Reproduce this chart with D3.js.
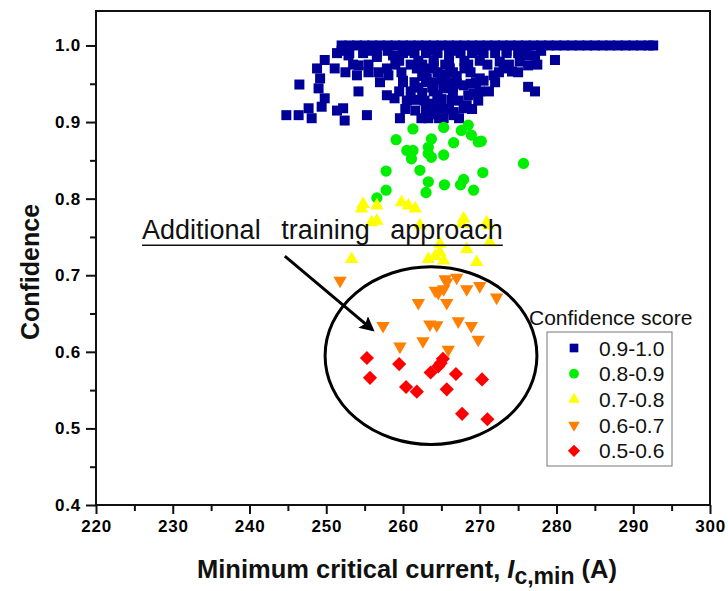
<!DOCTYPE html>
<html>
<head>
<meta charset="utf-8">
<script src="https://cdn.jsdelivr.net/npm/d3@7"></script>
<style>
  body { margin: 0; background: #fff; }
  svg { display: block; font-family: "Liberation Sans", Arial, sans-serif; }
</style>
</head>
<body>
<div id="chart"></div>
<script>
// score bins shown in the legend
const bins = ['0.9-1.0', '0.8-0.9', '0.7-0.8', '0.6-0.7', '0.5-0.6'];
const binColors = ['#000099', '#00ee00', '#ffff00', '#ff8000', '#ff0000'];

// 0.9-1.0 : blue squares (critical current in A, confidence)
const blueX = [
  252, 253, 254, 255, 256, 257, 258, 259, 260, 261, 262, 263, 264, 265, 266, 267, 268, 269, 270, 271,
  272, 273, 274, 275, 276, 277, 278, 279, 280, 281, 282, 283, 284, 285, 286, 287, 288, 289, 290, 291, 292, 292.6,
  251.4, 253, 254.8, 256.6, 258.7, 260, 261.5, 263, 264.5, 266, 267.5, 269, 270.5, 272, 273.5, 275, 276.3, 277.2,
  252, 255.5, 258, 261, 264, 267, 270, 273.5, 276, 278,
  249.8, 252.9, 256.6, 259.5, 262, 264, 266, 268, 270, 272.6, 275.2, 279.8,
  253.5, 255.5, 259, 262.5, 265.5, 268.5, 271, 273.8, 277.5,
  248.8, 251.1, 254.2, 257.9, 261.8, 263.5, 266.1, 268, 273.1, 274.2, 276.3, 261, 264, 265.5, 267,
  252.5, 255.5, 256.8, 259.8, 264.5, 266.5, 268.8, 272.5, 275,
  249.2, 254, 258.1, 260, 262.9, 263.1, 265, 267, 270, 271.8, 270.5, 262.5,
  257, 261.5, 263, 265.8, 269.5, 272,
  246.5, 249, 260, 264, 265.3, 267.9, 266.5, 276.3, 277.2, 263.8, 262, 268.8,
  259.5, 261, 264, 266.5, 270, 271.2,
  249.8, 254.2, 257.9, 258.9, 261.6, 263.5, 266.3, 268.5, 269.2, 264.5, 262.5, 265,
  260.5, 262.8, 264.5, 267.2, 269.8,
  247.7, 249.4, 251.4, 252.2, 261.6, 263.5, 266.6, 268.3, 267.9, 265,
  260.3, 263, 264, 266, 269,
  244.8, 246.4, 248.1, 252.4, 255.3, 259.6, 262.4, 265.3, 266.6, 264,
  263.3, 264.7, 267.3
];
const blueY = [
  1.0, 1.0, 1.0, 1.0, 1.0, 1.0, 1.0, 1.0, 1.0, 1.0, 1.0, 1.0, 1.0, 1.0, 1.0, 1.0, 1.0, 1.0, 1.0, 1.0,
  1.0, 1.0, 1.0, 1.0, 1.0, 1.0, 1.0, 1.0, 1.0, 1.0, 1.0, 1.0, 1.0, 1.0, 1.0, 1.0, 1.0, 1.0, 1.0, 1.0, 1.0, 1.0,
  0.99, 0.99, 0.99, 0.99, 0.987, 0.99, 0.99, 0.99, 0.99, 0.99, 0.99, 0.99, 0.99, 0.99, 0.99, 0.99, 0.987, 0.987,
  0.993, 0.993, 0.993, 0.993, 0.993, 0.993, 0.993, 0.993, 0.993, 0.993,
  0.981, 0.987, 0.985, 0.98, 0.98, 0.98, 0.98, 0.98, 0.98, 0.979, 0.979, 0.981,
  0.975, 0.975, 0.975, 0.975, 0.975, 0.975, 0.975, 0.975, 0.975,
  0.97, 0.97, 0.974, 0.97, 0.97, 0.97, 0.97, 0.97, 0.97, 0.966, 0.974, 0.975, 0.975, 0.962, 0.96,
  0.965, 0.965, 0.965, 0.965, 0.965, 0.965, 0.965, 0.965, 0.965,
  0.957, 0.961, 0.961, 0.954, 0.966, 0.957, 0.955, 0.95, 0.957, 0.961, 0.954, 0.96,
  0.952, 0.952, 0.952, 0.952, 0.952, 0.952,
  0.949, 0.944, 0.952, 0.952, 0.944, 0.948, 0.945, 0.946, 0.94, 0.945, 0.945, 0.95,
  0.94, 0.94, 0.94, 0.94, 0.94, 0.94,
  0.931, 0.94, 0.935, 0.931, 0.929, 0.924, 0.929, 0.935, 0.937, 0.935, 0.938, 0.93,
  0.928, 0.928, 0.928, 0.928, 0.928,
  0.918, 0.92, 0.915, 0.918, 0.915, 0.922, 0.913, 0.922, 0.918, 0.918,
  0.917, 0.917, 0.917, 0.917, 0.917,
  0.909, 0.909, 0.905, 0.902, 0.909, 0.905, 0.905, 0.905, 0.909, 0.91,
  0.905, 0.905, 0.905
];

// 0.8-0.9 : green circles
const greenX = [261.3, 259.1, 260.5, 261.3, 261.1, 263.3, 263.7, 263.3, 263.7, 265.3, 265.3, 266.6, 267.6, 268.5,
  268.9, 269.8, 270.2, 275.7, 270.4, 267.9, 267.5, 269.2, 265.4, 263.3, 263, 262.2, 257.8, 257.8, 256.6];
const greenY = [0.891, 0.877, 0.863, 0.863, 0.852, 0.867, 0.878, 0.859, 0.854, 0.893, 0.857, 0.873, 0.889, 0.896,
  0.883, 0.874, 0.875, 0.846, 0.834, 0.825, 0.818, 0.811, 0.818, 0.822, 0.808, 0.837, 0.836, 0.811, 0.801];

// 0.7-0.8 : yellow up triangles
const yellowX = [254.8, 254.6, 256.6, 259.8, 260.7, 261.6, 255.9, 256.6, 253.3, 262.2, 264.8, 264.8, 263.3, 265.3,
  267.9, 267.7, 268.3, 271.1, 271.3, 269.6, 270.9, 264.2];
const yellowY = [0.793, 0.787, 0.791, 0.795, 0.791, 0.787, 0.769, 0.771, 0.721, 0.765, 0.741, 0.73, 0.721, 0.719,
  0.774, 0.767, 0.734, 0.765, 0.743, 0.717, 0.769, 0.725];

// 0.6-0.7 : orange down triangles
const orangeX = [265.5, 265.7, 265.3, 264.2, 267, 268.3, 270, 272.2, 262, 265.7, 264.6, 257.4, 263.5, 264.4,
  267.2, 268.9, 262.6, 269.8, 259.6, 265.9, 251.8];
const orangeY = [0.695, 0.691, 0.682, 0.68, 0.697, 0.682, 0.686, 0.671, 0.664, 0.664, 0.677, 0.634, 0.636, 0.635,
  0.64, 0.634, 0.614, 0.616, 0.607, 0.603, 0.693];

// 0.5-0.6 : red diamonds
const redX = [255.3, 255.7, 259.5, 260.4, 261.8, 263.6, 264.6, 265.2, 265.7, 266.9, 270.3, 267.7, 271, 264.9];
const redY = [0.592, 0.566, 0.584, 0.554, 0.548, 0.573, 0.581, 0.591, 0.551, 0.571, 0.564, 0.519, 0.512, 0.585];

const xTicks = [220, 230, 240, 250, 260, 270, 280, 290, 300];
const yTicks = [0.4, 0.5, 0.6, 0.7, 0.8, 0.9, 1.0];

const width = 728;
const height = 591;
const margin = { top: 11, right: 18, bottom: 86, left: 96 };
const tickFont = '"Liberation Sans", Arial, sans-serif';

const svg = d3.select('#chart')
  .append('svg')
  .attr('width', width)
  .attr('height', height);

const x = d3.scaleLinear().domain([220, 300]).range([margin.left, width - margin.right]);
const y = d3.scaleLinear().domain([0.4, 1.045]).range([height - margin.bottom, margin.top]);

// frame
svg.append('rect')
  .attr('x', margin.left)
  .attr('y', margin.top)
  .attr('width', width - margin.right - margin.left)
  .attr('height', height - margin.bottom - margin.top)
  .attr('fill', 'none')
  .attr('stroke', '#111')
  .attr('stroke-width', 2);

// minor ticks first, then the labelled ones
const xMinor = d3.range(225, 300, 10);
const yMinor = d3.range(0.45, 1.0, 0.1);

svg.append('g')
  .attr('transform', `translate(0,${y(0.4)})`)
  .call(d3.axisBottom(x).tickValues(xMinor).tickSize(6).tickFormat(''))
  .call(g => g.select('.domain').remove())
  .call(g => g.selectAll('line').attr('stroke-width', 2).attr('stroke', '#111'));

svg.append('g')
  .attr('transform', `translate(${x(220)},0)`)
  .call(d3.axisLeft(y).tickValues(yMinor).tickSize(6).tickFormat(''))
  .call(g => g.select('.domain').remove())
  .call(g => g.selectAll('line').attr('stroke-width', 2).attr('stroke', '#111'));

svg.append('g')
  .attr('transform', `translate(0,${y(0.4)})`)
  .call(d3.axisBottom(x).tickValues(xTicks).tickSize(9).tickPadding(6).tickFormat(d3.format('d')))
  .call(g => g.select('.domain').remove())
  .call(g => g.selectAll('line').attr('stroke-width', 2).attr('stroke', '#111'))
  .call(g => g.selectAll('text')
    .style('font-size', '17px').style('font-weight', 'bold').style('font-family', tickFont)
    .style('letter-spacing', '0.8px')
    .attr('fill', '#000'));

svg.append('g')
  .attr('transform', `translate(${x(220)},0)`)
  .call(d3.axisLeft(y).tickValues(yTicks).tickSize(10).tickPadding(5).tickFormat(d3.format('.1f')))
  .call(g => g.select('.domain').remove())
  .call(g => g.selectAll('line').attr('stroke-width', 2).attr('stroke', '#111'))
  .call(g => g.selectAll('text')
    .style('font-size', '17px').style('font-weight', 'bold').style('font-family', tickFont)
    .style('letter-spacing', '0.8px')
    .attr('fill', '#000'));

// axis titles
svg.append('text')
  .attr('transform', `translate(39,272) rotate(-90)`)
  .attr('text-anchor', 'middle')
  .style('font-size', '25px')
  .style('font-weight', 'bold')
  .attr('fill', '#111')
  .text('Confidence');

const xTitle = svg.append('text')
  .attr('x', 407)
  .attr('y', 578)
  .attr('text-anchor', 'middle')
  .style('font-size', '25.5px')
  .style('font-weight', 'bold')
  .attr('fill', '#111');
xTitle.append('tspan').text('Minimum critical current, ');
xTitle.append('tspan').style('font-style', 'italic').text('I');
xTitle.append('tspan').style('font-size', '23px').attr('dy', 6).text('c,min');
xTitle.append('tspan').attr('dy', -6).text(' (A)');

// series
const shapes = [
  { xs: blueX, ys: blueY, type: d3.symbolSquare, size: 100, rot: 0 },
  { xs: greenX, ys: greenY, type: d3.symbolCircle, size: 100, rot: 0 },
  { xs: yellowX, ys: yellowY, type: d3.symbolTriangle, size: 78, rot: 0 },
  { xs: orangeX, ys: orangeY, type: d3.symbolTriangle, size: 78, rot: 180 },
  { xs: redX, ys: redY, type: d3.symbolSquare, size: 100, rot: 45 }
];

shapes.forEach((s, i) => {
  svg.append('g')
    .selectAll('path')
    .data(s.xs.map((v, j) => [v, s.ys[j]]))
    .enter()
    .append('path')
    .attr('d', d3.symbol().type(s.type).size(s.size))
    .attr('transform', d => `translate(${x(d[0])},${y(d[1])}) rotate(${s.rot})`)
    .attr('fill', binColors[i]);
});

// annotation: ellipse, arrow and label
svg.append('ellipse')
  .attr('cx', x(263.65))
  .attr('cy', y(0.595))
  .attr('rx', x(263.65 + 13.8) - x(263.65))
  .attr('ry', y(0.595) - y(0.595 + 0.116))
  .attr('fill', 'none')
  .attr('stroke', '#000')
  .attr('stroke-width', 3);

const defs = svg.append('defs');
defs.append('marker')
  .attr('id', 'arrow')
  .attr('viewBox', '0 0 10 10')
  .attr('refX', 8)
  .attr('refY', 5)
  .attr('markerWidth', 5)
  .attr('markerHeight', 5)
  .attr('orient', 'auto')
  .append('path')
  .attr('d', 'M0,0L10,5L0,10L2,5Z')
  .attr('fill', '#000');

svg.append('line')
  .attr('x1', x(244.6)).attr('y1', y(0.725))
  .attr('x2', x(256)).attr('y2', y(0.629))
  .attr('stroke', '#000')
  .attr('stroke-width', 3)
  .attr('marker-end', 'url(#arrow)');

const note = svg.append('text')
  .attr('x', x(226))
  .attr('y', y(0.747))
  .style('font-size', '27px')
  .attr('word-spacing', 13)
  .attr('fill', '#111')
  .text('Additional training approach');
const nb = note.node().getBBox();
svg.append('line')
  .attr('x1', nb.x).attr('x2', nb.x + nb.width)
  .attr('y1', y(0.747) + 6).attr('y2', y(0.747) + 6)
  .attr('stroke', '#111')
  .attr('stroke-width', 1.5);

// legend
const legend = svg.append('g').attr('transform', 'translate(547,332)');
svg.append('text')
  .attr('x', 529)
  .attr('y', 325)
  .style('font-size', '21px')
  .attr('fill', '#111')
  .text('Confidence score');

legend.append('rect')
  .attr('width', 125)
  .attr('height', 134)
  .attr('fill', '#fff')
  .attr('stroke', '#777')
  .attr('stroke-width', 1);

bins.forEach((b, i) => {
  const row = legend.append('g').attr('transform', `translate(0,${16 + i * 25.7})`);
  row.append('path')
    .attr('d', d3.symbol().type(shapes[i].type).size(shapes[i].size * 0.75))
    .attr('transform', `translate(27,0) rotate(${shapes[i].rot})`)
    .attr('fill', binColors[i]);
  row.append('text')
    .attr('x', 52)
    .attr('y', 7.5)
    .style('font-size', '21px')
    .attr('fill', '#111')
    .text(b);
});
</script>
</body>
</html>
